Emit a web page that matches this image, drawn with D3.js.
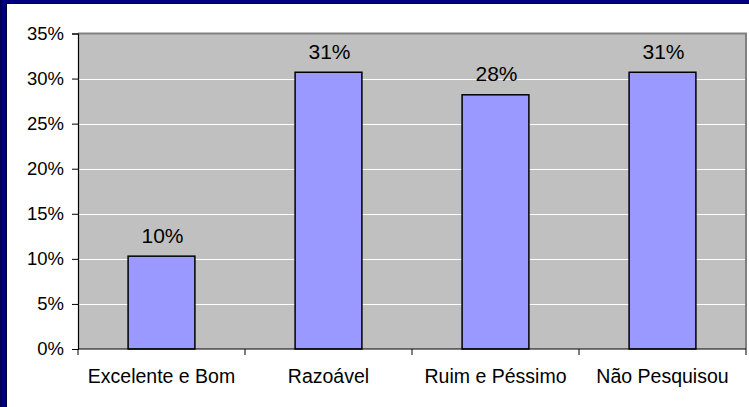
<!DOCTYPE html>
<html>
<head>
<meta charset="utf-8">
<script src="https://cdn.jsdelivr.net/npm/d3@7"></script>
<style>
  html, body { margin: 0; padding: 0; background: #ffffff; }
  svg { display: block; }
  text { font-family: "Liberation Sans", Arial, sans-serif; fill: #000; }
</style>
</head>
<body>
<svg id="chart" width="749" height="407"></svg>
<script>
// Avaliação — percentuais por categoria
const categories = ["Excelente e Bom", "Razoável", "Ruim e Péssimo", "Não Pesquisou"];
const values = [10.3, 30.7, 28.2, 30.7];
const valueLabels = ["10%", "31%", "28%", "31%"];
const yTicks = [0, 5, 10, 15, 20, 25, 30, 35];

const W = 749, H = 407;
const plot = { left: 78, top: 33.5, right: 746, bottom: 349 };

const svg = d3.select("#chart");

// navy frame
svg.append("rect").attr("x", 0).attr("y", 0).attr("width", W).attr("height", H).attr("fill", "#000080");
svg.append("rect").attr("x", 0).attr("y", 0).attr("width", 2).attr("height", H).attr("fill", "#000050");
svg.append("rect").attr("x", 6).attr("y", 3).attr("width", W - 6).attr("height", H - 3).attr("fill", "#000030");
svg.append("rect").attr("x", 7).attr("y", 4).attr("width", W - 7).attr("height", H - 4).attr("fill", "#ffffff");

const x = d3.scaleBand().domain(categories).range([plot.left, plot.right]).paddingInner(0).paddingOuter(0);
const y = d3.scaleLinear().domain([0, 35]).range([plot.bottom, plot.top]);

// plot background
svg.append("rect")
  .attr("x", plot.left).attr("y", plot.top)
  .attr("width", plot.right - plot.left).attr("height", plot.bottom - plot.top)
  .attr("fill", "#c0c0c0");

// gridlines
svg.append("g").selectAll("line").data(yTicks.filter(t => t > 0 && t < 35)).join("line")
  .attr("x1", plot.left).attr("x2", plot.right)
  .attr("y1", d => Math.round(y(d)) + 0.5).attr("y2", d => Math.round(y(d)) + 0.5)
  .attr("stroke", "#ffffff").attr("stroke-width", 1);

// plot border (top / right)
svg.append("path")
  .attr("d", `M${plot.left},${plot.top} H${plot.right} V${plot.bottom}`)
  .attr("fill", "none").attr("stroke", "#808080").attr("stroke-width", 2);

// bars
const barW = x.bandwidth() / 2.5;
svg.append("g").selectAll("rect").data(categories).join("rect")
  .attr("x", (d) => x(d) + (x.bandwidth() - barW) / 2)
  .attr("y", (d, i) => y(values[i]))
  .attr("width", barW)
  .attr("height", (d, i) => y(0) - y(values[i]))
  .attr("fill", "#9999ff")
  .attr("stroke", "#000000").attr("stroke-width", 1.5);

// value labels
svg.append("g").selectAll("text").data(categories).join("text")
  .attr("x", d => x(d) + x.bandwidth() / 2 + 1)
  .attr("y", (d, i) => y(values[i]) - 13.5)
  .attr("text-anchor", "middle")
  .attr("font-size", 21)
  .text((d, i) => valueLabels[i]);

// y axis
const yAxis = d3.axisLeft(y).tickValues(yTicks).tickFormat(d => d + "%").tickSize(6).tickPadding(8);
const gy = svg.append("g").attr("transform", `translate(${plot.left},0)`).call(yAxis);
gy.select(".domain").attr("stroke", "#000").attr("stroke-width", 1.2);
gy.selectAll(".tick line").attr("stroke", "#000");
gy.selectAll(".tick text").attr("font-size", 18.5).attr("font-family", "Liberation Sans, Arial, sans-serif").attr("fill", "#000");

// x axis: category boundary ticks
const gx = svg.append("g").attr("transform", `translate(0,${plot.bottom})`);
gx.append("line").attr("x1", plot.left).attr("x2", plot.right).attr("stroke", "#000").attr("stroke-width", 1.2);
const bounds = categories.map(c => x(c)).concat([plot.right]);
gx.selectAll("line.tk").data(bounds).join("line").attr("class", "tk")
  .attr("x1", d => d).attr("x2", d => d).attr("y1", 0).attr("y2", 6)
  .attr("stroke", "#000");
gx.selectAll("text").data(categories).join("text")
  .attr("x", d => x(d) + x.bandwidth() / 2)
  .attr("y", 33.5)
  .attr("text-anchor", "middle")
  .attr("font-size", 19.5)
  .text(d => d);
</script>
</body>
</html>
